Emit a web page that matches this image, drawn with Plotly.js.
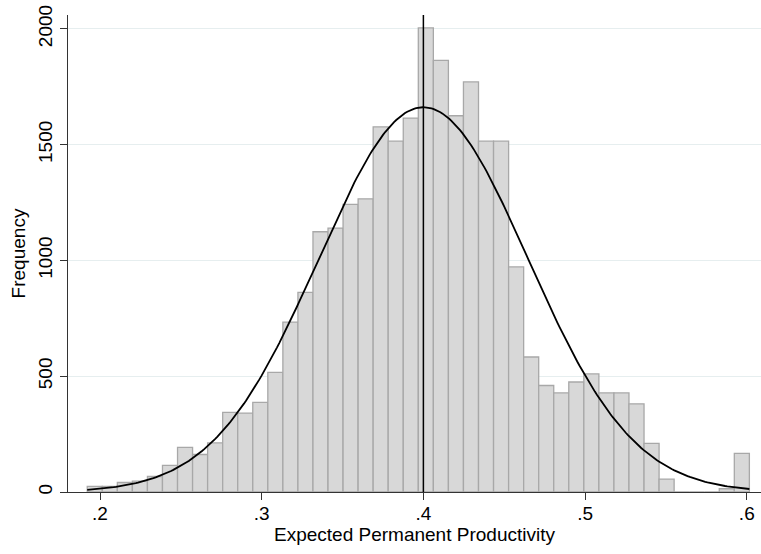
<!DOCTYPE html>
<html>
<head>
<meta charset="utf-8">
<script src="https://cdn.plot.ly/plotly-3.0.1.min.js"></script>
<style>html,body{margin:0;padding:0;background:#fff;}#chart{width:761px;height:554px;}</style>
</head>
<body>
<div id="chart"></div>
<script>
// Histogram: 44 bins from binStart with width binWidth
const binStart = 0.1921;
const binWidth = 0.009307;
const counts = [24, 24, 41, 47, 67, 115, 193, 162, 212, 344, 341, 387,
  517, 734, 862, 1124, 1140, 1242, 1266, 1577, 1515, 1615,
  2004, 1864, 1625, 1771, 1515, 1515, 972, 583, 460,
  428, 475, 510, 428, 428, 381, 210, 56, 0, 0, 0, 14, 167];
// Normal density overlay parameters
const fitMean = 0.4;
const fitSD = 0.0647;
const meanLine = 0.4;
const xTickVals = [0.2, 0.3, 0.4, 0.5, 0.6];
const xTickText = ['.2', '.3', '.4', '.5', '.6'];
const yTickVals = [0, 500, 1000, 1500, 2000];
const xTitle = 'Expected Permanent Productivity';
const yTitle = 'Frequency';

const centers = counts.map((c, i) => binStart + binWidth * (i + 0.5));
const total = counts.reduce((a, b) => a + b, 0);
const binEnd = binStart + binWidth * counts.length;
const curveX = [], curveY = [];
const nPts = 300;
for (let k = 0; k <= nPts; k++) {
  const x = binStart + (binEnd - binStart) * k / nPts;
  const z = (x - fitMean) / fitSD;
  curveX.push(x);
  curveY.push(total * binWidth / (fitSD * Math.sqrt(2 * Math.PI)) * Math.exp(-0.5 * z * z));
}

const font = 'Liberation Sans, Arial, sans-serif';
const traces = [
  {type: 'bar', x: centers, y: counts, width: binWidth,
   marker: {color: '#d8d8d8', line: {color: '#a8a8a8', width: 1.3}},
   hoverinfo: 'x+y'},
  {type: 'scatter', mode: 'lines', x: curveX, y: curveY,
   line: {color: '#000', width: 1.8}, hoverinfo: 'skip'}
];
const layout = {
  width: 761, height: 554,
  margin: {l: 68, r: 0, t: 15, b: 62},
  paper_bgcolor: '#fff', plot_bgcolor: '#fff',
  showlegend: false,
  bargap: 0,
  font: {family: font, color: '#000', size: 19},
  xaxis: {range: [0.1802, 0.6088], tickvals: xTickVals, ticktext: xTickText,
    ticks: 'outside', ticklen: 7, tickcolor: '#333', showline: true, linecolor: '#333', linewidth: 1,
    showgrid: false, zeroline: false, tickfont: {size: 19}, ticklabelstandoff: -3,
    title: {text: xTitle, font: {size: 19}, standoff: 2}},
  yaxis: {range: [0, 2060], tickvals: yTickVals, tickangle: -90,
    ticks: 'outside', ticklen: 7, tickcolor: '#333', showline: true, linecolor: '#333', linewidth: 1,
    showgrid: true, gridcolor: '#e6eeef', gridwidth: 1, zeroline: false, tickfont: {size: 19},
    title: {text: yTitle, font: {size: 19}, standoff: 4}},
  shapes: [{type: 'line', xref: 'x', yref: 'paper', x0: meanLine, x1: meanLine, y0: 0, y1: 1,
    line: {color: '#000', width: 1.5}}]
};
Plotly.newPlot('chart', traces, layout, {staticPlot: true});
</script>
</body>
</html>
